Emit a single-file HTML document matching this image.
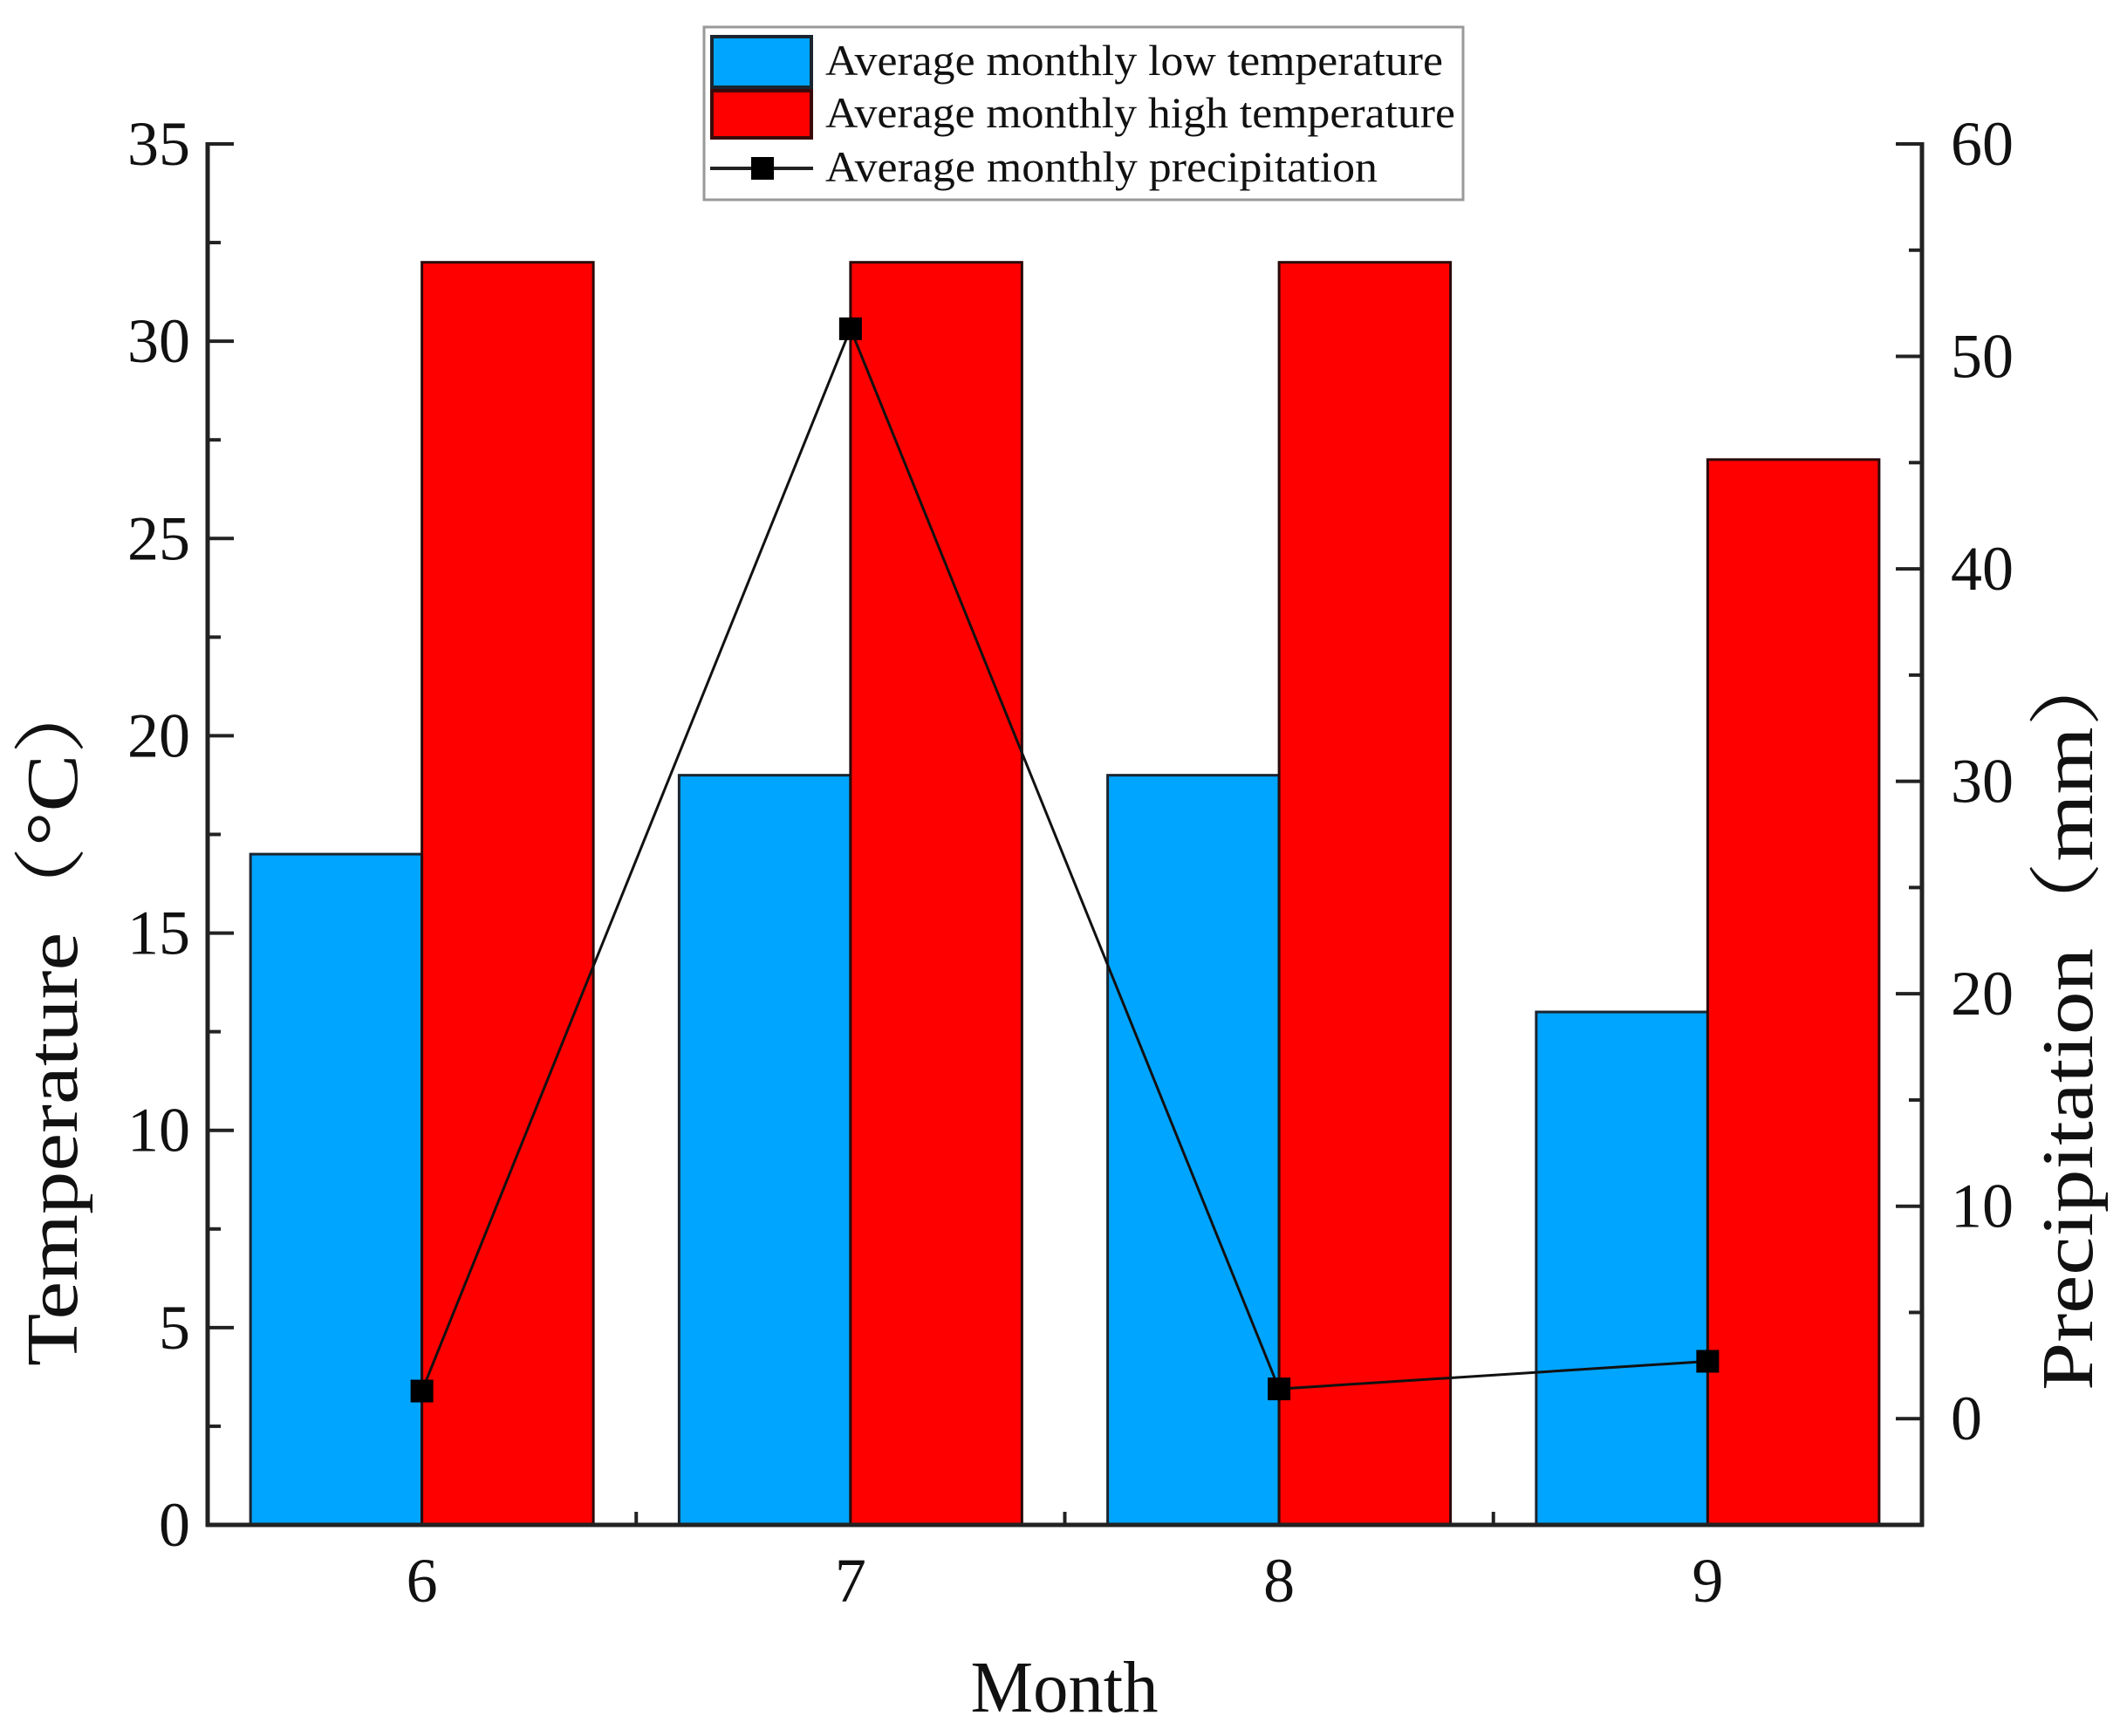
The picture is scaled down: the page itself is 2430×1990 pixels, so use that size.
<!DOCTYPE html>
<html><head><meta charset="utf-8"><style>
html,body{margin:0;padding:0;background:#fff}
svg{display:block}
text{font-family:"Liberation Serif","Noto Serif CJK SC",serif;fill:#111}
</style></head><body>
<svg id="chart" width="2430" height="1990" viewBox="0 0 2430 1990" xmlns="http://www.w3.org/2000/svg"></svg>
<script>
const months = ["6","7","8","9"];
const lowTemp = [17, 19, 19, 13];
const highTemp = [32, 32, 32, 27];
const precip = [1.3, 51.3, 1.4, 2.7];
const leftTicks = [0,5,10,15,20,25,30,35];
const rightTicks = [0,10,20,30,40,50,60];

const L=238, R=2203, T=165, B=1748;
const NS="http://www.w3.org/2000/svg";
const svg=document.getElementById('chart');
function el(tag, attrs, parent){const e=document.createElementNS(NS,tag);for(const k in attrs)e.setAttribute(k,attrs[k]);(parent||svg).appendChild(e);return e;}
const band=(R-L)/months.length;
const xc=i=>L+band*(i+0.5);
const yL=v=>B-(v-0)/(35-0)*(B-T);
const yR=v=>B-(v-(-5))/(60-(-5))*(B-T);
const bw=band*0.4;

const gBars=el('g',{});


months.forEach((m,i)=>{
  const b1=el('rect',{x:xc(i)-bw,y:yL(lowTemp[i]),width:bw,height:B-yL(lowTemp[i]),fill:'#00a5ff',stroke:'#1a2530','stroke-width':3},gBars);
  
  
  const b2=el('rect',{x:xc(i),y:yL(highTemp[i]),width:bw,height:B-yL(highTemp[i]),fill:'#ff0000',stroke:'#2a0a0a','stroke-width':3},gBars);
  
  
});

const pts=precip.map((v,i)=>xc(i)+','+yR(v)).join(' ');
const line=el('polyline',{points:pts,fill:'none',stroke:'#111','stroke-width':3});


precip.forEach((v,i)=>{
  const p=el('rect',{x:xc(i)-13,y:yR(v)-13,width:26,height:26,fill:'#000'});
  
  
});

const ax=el('g',{stroke:'#222','stroke-width':5,fill:'none'});


el('line',{x1:L,y1:T-2,x2:L,y2:B+2},ax);
el('line',{x1:R,y1:T-2,x2:R,y2:B+2},ax);
el('line',{x1:L-2,y1:B,x2:R+2,y2:B},ax);

leftTicks.forEach(v=>{
  el('line',{x1:L,y1:yL(v),x2:L+30,y2:yL(v),'stroke-width':4},ax);
  if(v<35) el('line',{x1:L,y1:yL(v+2.5),x2:L+15,y2:yL(v+2.5),'stroke-width':4},ax);
  const t=el('text',{x:L-20,y:yL(v)+24,'text-anchor':'end','font-size':72});
  t.textContent=v;
  
  
});
rightTicks.forEach(v=>{
  el('line',{x1:R,y1:yR(v),x2:R-30,y2:yR(v),'stroke-width':4},ax);
  el('line',{x1:R,y1:yR(v-5),x2:R-15,y2:yR(v-5),'stroke-width':4},ax);
  const t=el('text',{x:R+33,y:yR(v)+24,'text-anchor':'start','font-size':72});
  t.textContent=v;
  
  
});
for(let i=1;i<months.length;i++){
  el('line',{x1:L+band*i,y1:B,x2:L+band*i,y2:B-15,'stroke-width':4},ax);
}
months.forEach((m,i)=>{
  const t=el('text',{x:xc(i),y:B+88,'text-anchor':'middle','font-size':72});
  t.textContent=m;
  
  
});

const xt=el('text',{x:1220,y:1962,'text-anchor':'middle','font-size':84,textLength:215,lengthAdjust:'spacingAndGlyphs'});
xt.textContent='Month';


const yt=el('text',{x:0,y:0,'text-anchor':'middle','font-size':84,textLength:800,lengthAdjust:'spacingAndGlyphs',transform:'translate(88,1166) rotate(-90)'});
yt.textContent='Temperature（°C）';


const yt2=el('text',{x:0,y:0,'text-anchor':'middle','font-size':84,textLength:860,lengthAdjust:'spacingAndGlyphs',transform:'translate(2398,1164) rotate(-90)'});
yt2.textContent='Precipitation（mm）';



const lg=el('g',{});


el('rect',{x:807,y:31,width:870,height:198,fill:'#fff',stroke:'#999','stroke-width':3},lg);
const r1=el('rect',{x:816,y:42,width:114,height:58,fill:'#00a5ff',stroke:'#1a2530','stroke-width':4},lg);


const r2=el('rect',{x:816,y:104,width:114,height:54,fill:'#ff0000',stroke:'#3a0a0a','stroke-width':4},lg);


el('line',{x1:814,y1:193,x2:932,y2:193,stroke:'#222','stroke-width':4},lg);
el('rect',{x:861,y:180,width:26,height:26,fill:'#000'},lg);
const labs=['Average monthly low temperature','Average monthly high temperature','Average monthly precipitation'];
const labW=[708,722,633];
[86,146,208].forEach((y,i)=>{
  const t=el('text',{x:946,y:y,'font-size':50,textLength:labW[i],lengthAdjust:'spacingAndGlyphs'},lg);
  t.textContent=labs[i];
  
  
});
</script>
</body></html>
